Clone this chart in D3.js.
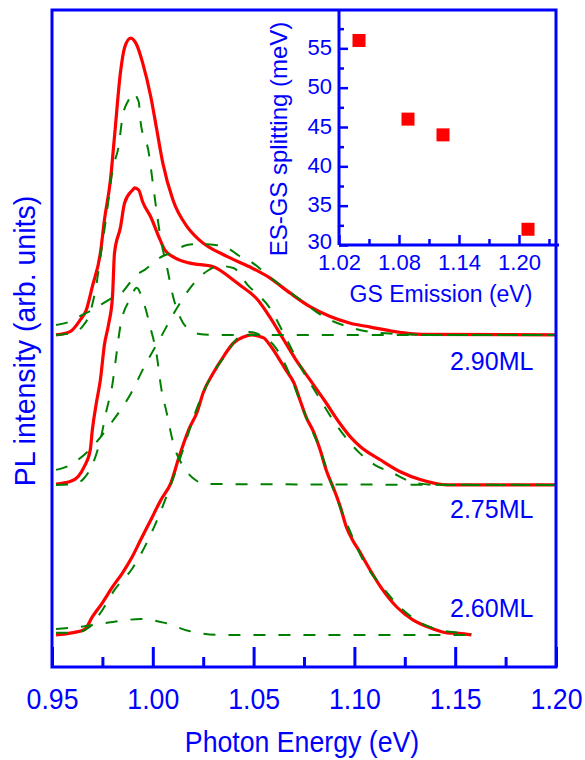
<!DOCTYPE html>
<html>
<head>
<meta charset="utf-8">
<script src="https://cdn.jsdelivr.net/npm/d3@7/dist/d3.min.js"></script>
<style>
  body { margin: 0; background: #fff; }
  text { font-family: "Liberation Sans", Arial, sans-serif; fill: #0000ff; }
</style>
</head>
<body>
<script>
// PL spectra [energy (eV), intensity (arb. units)] -- measured (red) and fitted components (green)
var ml260Data = [[0.952,0],[0.959,0.6],[0.966,1.7],[0.970,6],[0.975,10.7],[0.980,16],[0.985,20.7],[0.990,26.3],
  [0.994,31.7],[0.999,38.3],[1.004,45],[1.009,50.7],[1.013,59.3],[1.018,68.7],[1.022,74.3],[1.025,80.7],
  [1.030,87.3],[1.035,92.7],[1.040,97.3],[1.045,99.3],[1.049,100],[1.055,99],[1.058,96.7],[1.062,92.7],
  [1.066,88.3],[1.070,84],[1.073,78.3],[1.076,72.7],[1.080,67.3],[1.083,61.7],[1.086,55],[1.090,48.3],
  [1.093,42.7],[1.096,36],[1.099,31.7],[1.103,27.3],[1.106,23.7],[1.113,16],[1.121,9.3],[1.129,5],
  [1.138,2.3],[1.146,0.7],[1.152,0.5],[1.158,0]];
var ml260Main = [[0.952,0.7],[0.961,0.7],[0.968,2.3],[0.974,7.3],[0.981,15],[0.990,22.3],[1.000,35],
  [1.008,48.3],[1.015,61.7],[1.021,74],[1.028,85],[1.036,93.3],[1.042,99],[1.048,101],[1.054,99.7],
  [1.061,95.7],[1.068,86.7],[1.075,74.3],[1.083,61.7],[1.090,47.7],[1.098,34.3],[1.105,24],[1.113,16.7],
  [1.123,9],[1.133,4],[1.142,1.7],[1.152,0.7],[1.158,0.3]];
var ml260Small = [[0.952,2],[0.964,2.7],[0.974,3.7],[0.984,4.7],[0.994,5.3],[1.006,4],[1.018,1.3],
  [1.033,0],[1.158,0]];

var ml275Data = [[0.952,0.3],[0.959,1.1],[0.963,2.8],[0.966,6.1],[0.969,11.7],[0.970,18.3],[0.972,27.3],
  [0.974,35],[0.976,46.7],[0.978,53.3],[0.980,62.7],[0.981,77.3],[0.984,86],[0.986,94],[0.990,98.3],
  [0.991,99],[0.993,98.3],[0.995,94.3],[0.999,89.3],[1.003,82.7],[1.006,78.3],[1.011,75.7],[1.018,74],
  [1.030,72.7],[1.038,69.3],[1.043,66.7],[1.052,61.7],[1.058,56],[1.065,48.3],[1.071,41.7],[1.078,35],
  [1.085,28.3],[1.093,20.3],[1.098,16],[1.103,12.7],[1.113,8.3],[1.123,4.3],[1.133,1.7],[1.146,0],[1.200,0]];
var ml275GS = [[0.952,0],[0.961,0.3],[0.966,2.3],[0.970,6.7],[0.974,15],[0.977,24.7],[0.980,33.7],
  [0.982,43.7],[0.984,53.3],[0.989,62.3],[0.992,65.7],[0.995,61.7],[0.999,52],[1.002,43],[1.004,33],
  [1.007,23.7],[1.010,14.3],[1.016,5.3],[1.021,1.7],[1.026,0.3],[1.200,0]];
var ml275ES = [[0.952,5],[0.957,6],[0.968,11.3],[0.979,20.3],[0.989,30.3],[0.996,39.7],[1.004,49.3],
  [1.012,59],[1.021,67.7],[1.027,71.3],[1.033,73],[1.040,72.3],[1.047,66.7],[1.058,59],[1.067,47.7],
  [1.075,37.3],[1.081,30.7],[1.090,21],[1.102,11],[1.110,6.7],[1.118,4.3],[1.130,0.7],[1.142,0],[1.200,0]];

var ml290Data = [[0.952,0],[0.959,1.1],[0.964,5],[0.967,8.3],[0.970,16.1],[0.974,27.3],[0.976,38.3],
  [0.979,51.7],[0.981,66.1],[0.984,87.7],[0.986,95.7],[0.989,98.9],[0.992,96.7],[0.995,90.6],[0.999,79.4],
  [1.002,68.3],[1.005,57.2],[1.010,45],[1.017,36.1],[1.023,31.7],[1.037,26.1],[1.048,22.7],[1.058,19],
  [1.068,14],[1.078,9.4],[1.088,6.1],[1.098,3.9],[1.108,2.6],[1.123,0.8],[1.133,0.2],[1.200,0]];
var ml290GS = [[0.952,0],[0.960,0.7],[0.965,2.7],[0.969,7.7],[0.972,16.7],[0.974,26],[0.976,35],
  [0.978,45],[0.980,55],[0.983,62.7],[0.985,72.7],[0.988,78.3],[0.990,80.7],[0.993,77.7],[0.994,70.7],
  [0.998,60.7],[1.000,50.7],[1.002,40.7],[1.004,31.7],[1.007,22.7],[1.010,13],[1.015,4],[1.018,2],
  [1.023,0.3],[1.031,0],[1.200,0]];
var ml290ES = [[0.952,3.3],[0.957,4],[0.964,6.3],[0.970,8.3],[0.979,12],[0.984,13.7],[0.992,20],
  [0.996,21.7],[1.005,26.3],[1.009,27.3],[1.017,30],[1.023,30.3],[1.031,30],[1.037,29],[1.043,26.3],
  [1.048,24.7],[1.058,19.3],[1.072,12.3],[1.085,6],[1.099,2.3],[1.108,1],[1.123,0.3],[1.138,0],[1.200,0]];

var sampleLabels = ["2.60ML", "2.75ML", "2.90ML"];
var offsets = [0, 50, 100];

// inset: ES-GS splitting vs GS emission
var gsEmission = [1.040, 1.089, 1.124, 1.209];
var splitting = [56, 46, 44, 32];

var mainTicks = [0.95, 1.00, 1.05, 1.10, 1.15, 1.20];
var mainMinor = [0.975, 1.025, 1.075, 1.125, 1.175];
var insetXTicks = [1.02, 1.08, 1.14, 1.20];
var insetXMinor = [1.05, 1.11, 1.17, 1.23];
var insetYTicks = [30, 35, 40, 45, 50, 55];
var insetYMinor = [32.5, 37.5, 42.5, 47.5, 52.5, 57.5];

var blue = "#0000ff", red = "#ff0000", green = "#008000";
var font = "'Liberation Sans', Arial, sans-serif";

var margin = {top: 10, right: 29, bottom: 93, left: 52},
    width = 585 - margin.left - margin.right,
    height = 760 - margin.top - margin.bottom;

var svg = d3.select("body").append("svg")
    .attr("width", 585)
    .attr("height", 760);

var g = svg.append("g")
    .attr("transform", "translate(" + margin.left + "," + margin.top + ")");

var x = d3.scaleLinear().domain([0.95, 1.20]).range([0, width]);
var y = d3.scaleLinear().domain([-10.7, 208.3]).range([height, 0]);

function specLine(off) {
  return d3.line()
    .curve(d3.curveMonotoneX)
    .x(function(d) { return x(d[0]); })
    .y(function(d) { return y(d[1] + off); });
}

var spectra = [
  {data: ml260Data, fits: [ml260Main, ml260Small]},
  {data: ml275Data, fits: [ml275GS, ml275ES]},
  {data: ml290Data, fits: [ml290GS, ml290ES]}
];

// red measured spectra first, dashed fits on top
spectra.forEach(function(s, i) {
  g.append("path")
    .datum(s.data)
    .attr("fill", "none")
    .attr("stroke", red)
    .attr("stroke-width", 3.2)
    .attr("stroke-linejoin", "round")
    .attr("d", specLine(offsets[i]));
});
spectra.forEach(function(s, i) {
  s.fits.forEach(function(f) {
    g.append("path")
      .datum(f)
      .attr("fill", "none")
      .attr("stroke", green)
      .attr("stroke-width", 2)
      .attr("stroke-dasharray", "12,13")
      .attr("d", specLine(offsets[i]));
  });
});

// sample labels
var labelY = [617, 518, 370];
sampleLabels.forEach(function(t, i) {
  g.append("text")
    .attr("x", 398)
    .attr("y", labelY[i] - margin.top)
    .attr("font-size", "25px")
    .text(t);
});

// bottom axis, ticks pointing in
var xAxis = g.append("g")
    .attr("transform", "translate(0," + height + ")")
    .call(d3.axisBottom(x).tickValues(mainTicks).tickFormat(d3.format(".2f"))
      .tickSizeInner(-20).tickSizeOuter(0).tickPadding(21));
xAxis.select(".domain").remove();
xAxis.selectAll("line").attr("stroke", blue).attr("stroke-width", 3);
xAxis.selectAll("text").attr("font-size", "29px").attr("fill", blue)
  .attr("font-family", font).attr("transform", "scale(0.92,1)");

var xMinor = g.append("g")
    .attr("transform", "translate(0," + height + ")")
    .call(d3.axisBottom(x).tickValues(mainMinor).tickFormat("").tickSizeInner(-10).tickSizeOuter(0));
xMinor.select(".domain").remove();
xMinor.selectAll("line").attr("stroke", blue).attr("stroke-width", 3);

// inset
var ix = d3.scaleLinear().domain([1.02, 1.237]).range([339, 556]);
var iy = d3.scaleLinear().domain([30, 60]).range([245, 9]);

var inset = svg.append("g");
inset.append("rect")
  .attr("x", 339).attr("y", 10)
  .attr("width", 556 - 339).attr("height", 245 - 10)
  .attr("fill", "#fff");

var ixAxis = inset.append("g")
    .attr("transform", "translate(0,245)")
    .call(d3.axisBottom(ix).tickValues(insetXTicks).tickFormat(d3.format(".2f"))
      .tickSizeInner(-10).tickSizeOuter(0).tickPadding(9));
ixAxis.select(".domain").remove();
ixAxis.selectAll("line").attr("stroke", blue).attr("stroke-width", 2.5);
ixAxis.selectAll("text").attr("font-size", "22px").attr("fill", blue)
  .attr("font-family", font);
var ixMinor = inset.append("g")
    .attr("transform", "translate(0,245)")
    .call(d3.axisBottom(ix).tickValues(insetXMinor).tickFormat("").tickSizeInner(-6).tickSizeOuter(0));
ixMinor.select(".domain").remove();
ixMinor.selectAll("line").attr("stroke", blue).attr("stroke-width", 2.5);

var iyAxis = inset.append("g")
    .attr("transform", "translate(339,0)")
    .call(d3.axisLeft(iy).tickValues(insetYTicks)
      .tickSizeInner(-9).tickSizeOuter(0).tickPadding(7));
iyAxis.select(".domain").remove();
iyAxis.selectAll("line").attr("stroke", blue).attr("stroke-width", 2.5);
iyAxis.selectAll("text").attr("font-size", "22px").attr("fill", blue)
  .attr("font-family", font)
  .attr("y", function(d) { return d === 30 ? -4 : -1; });
var iyMinor = inset.append("g")
    .attr("transform", "translate(339,0)")
    .call(d3.axisLeft(iy).tickValues(insetYMinor).tickFormat("").tickSizeInner(-5).tickSizeOuter(0));
iyMinor.select(".domain").remove();
iyMinor.selectAll("line").attr("stroke", blue).attr("stroke-width", 2.5);

inset.append("line").attr("x1", 339).attr("x2", 339).attr("y1", 10).attr("y2", 245)
  .attr("stroke", blue).attr("stroke-width", 3);
inset.append("line").attr("x1", 339).attr("x2", 559).attr("y1", 245).attr("y2", 245)
  .attr("stroke", blue).attr("stroke-width", 3);

inset.selectAll(".pt")
  .data(gsEmission)
  .enter().append("rect")
    .attr("class", "pt")
    .attr("x", function(d) { return ix(d) - 6.5; })
    .attr("y", function(d, i) { return iy(splitting[i]) - 6.5; })
    .attr("width", 13).attr("height", 13)
    .attr("fill", red);

inset.append("text")
  .attr("x", 441).attr("y", 302)
  .attr("text-anchor", "middle")
  .attr("font-size", "23px")
  .text("GS Emission (eV)");

inset.append("text")
  .attr("transform", "translate(287,139) rotate(-90)")
  .attr("text-anchor", "middle")
  .attr("font-size", "24px")
  .text("ES-GS splitting (meV)");

// main frame
svg.append("rect")
  .attr("x", margin.left).attr("y", margin.top)
  .attr("width", width).attr("height", height)
  .attr("fill", "none")
  .attr("stroke", blue)
  .attr("stroke-width", 3);

// axis titles
svg.append("text")
  .attr("transform", "translate(302,752) scale(0.89,1)")
  .attr("text-anchor", "middle")
  .attr("font-size", "30px")
  .text("Photon Energy (eV)");

svg.append("text")
  .attr("transform", "translate(35,341) rotate(-90) scale(0.95,1)")
  .attr("text-anchor", "middle")
  .attr("font-size", "30px")
  .text("PL intensity (arb. units)");
</script>
</body>
</html>
